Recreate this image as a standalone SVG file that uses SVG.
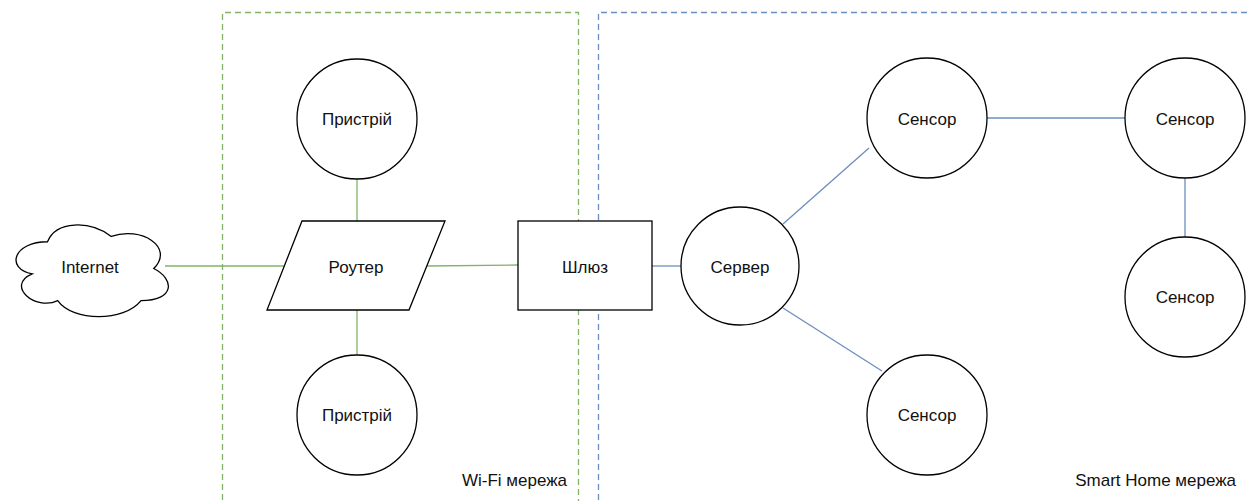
<svg xmlns="http://www.w3.org/2000/svg" width="1249" height="501" viewBox="0 0 1249 501">
  <style>
    .node { fill: #ffffff; stroke: #000000; stroke-width: 1.3; }
    .label { font-family: "Liberation Sans", Arial, sans-serif; font-size: 17px; fill: #111111; text-anchor: middle; dominant-baseline: central; }
    .zone-label { font-family: "Liberation Sans", Arial, sans-serif; font-size: 17px; fill: #111111; text-anchor: end; }
    .green { stroke: #82b366; stroke-width: 1.3; fill: none; }
    .blue { stroke: #6c8ebf; stroke-width: 1.3; fill: none; }
    .dash { stroke-dasharray: 6 4; }
  </style>
  <rect width="1249" height="501" fill="#ffffff"/>

  <!-- network zones -->
  <g id="zone-wifi">
    <path class="green dash" d="M222.5 510 V12.5 H578.5 V510"/>
    <text class="zone-label" x="567" y="486">Wi-Fi мережа</text>
  </g>
  <g id="zone-smarthome">
    <path class="blue dash" d="M598.5 510 V12.5 H1260"/>
    <text class="zone-label" x="1236" y="486">Smart Home мережа</text>
  </g>

  <!-- links -->
  <g id="connectors">
    <line class="green" x1="165" y1="266" x2="286" y2="266"/>
    <line class="green" x1="427" y1="266" x2="518" y2="265"/>
    <line class="green" x1="357" y1="179" x2="357" y2="221"/>
    <line class="green" x1="357" y1="310" x2="357" y2="355"/>
    <line class="blue" x1="652" y1="266" x2="681" y2="266"/>
    <line class="blue" x1="783" y1="224" x2="869" y2="148"/>
    <line class="blue" x1="783" y1="308" x2="882" y2="371"/>
    <line class="blue" x1="987" y1="118" x2="1125" y2="118"/>
    <line class="blue" x1="1185" y1="178" x2="1185" y2="237"/>
  </g>

  <g id="internet">
    <path class="node" transform="translate(5 215)" d="M42.5 26.75 C8.5 26.75 0 53.5 27.2 58.85 C0 70.62 30.6 96.3 52.7 85.6 C68 107 119 107 136 85.6 C170 85.6 170 64.2 148.75 53.5 C170 32.1 136 10.7 106.25 21.4 C85 5.35 51 5.35 42.5 26.75 Z"/>
    <text class="label" x="90" y="267">Internet</text>
  </g>

  <g id="router">
    <polygon class="node" points="302,221 445,221 409,310 267,310"/>
    <text class="label" x="356" y="267">Роутер</text>
  </g>

  <g id="device-top">
    <circle class="node" cx="357" cy="119" r="60"/>
    <text class="label" x="357" y="119">Пристрій</text>
  </g>

  <g id="device-bottom">
    <circle class="node" cx="357" cy="415" r="60"/>
    <text class="label" x="357" y="415">Пристрій</text>
  </g>

  <g id="gateway">
    <rect class="node" x="518" y="221" width="134" height="89"/>
    <text class="label" x="585" y="267">Шлюз</text>
  </g>

  <g id="server">
    <circle class="node" cx="740" cy="266" r="59"/>
    <text class="label" x="740" y="267">Сервер</text>
  </g>

  <g id="sensor-1">
    <circle class="node" cx="927" cy="118" r="60"/>
    <text class="label" x="927" y="119">Сенсор</text>
  </g>

  <g id="sensor-2">
    <circle class="node" cx="1185" cy="118" r="60"/>
    <text class="label" x="1185" y="119">Сенсор</text>
  </g>

  <g id="sensor-3">
    <circle class="node" cx="1185" cy="297" r="60"/>
    <text class="label" x="1185" y="297">Сенсор</text>
  </g>

  <g id="sensor-4">
    <circle class="node" cx="927" cy="415" r="60"/>
    <text class="label" x="927" y="415">Сенсор</text>
  </g>
</svg>
